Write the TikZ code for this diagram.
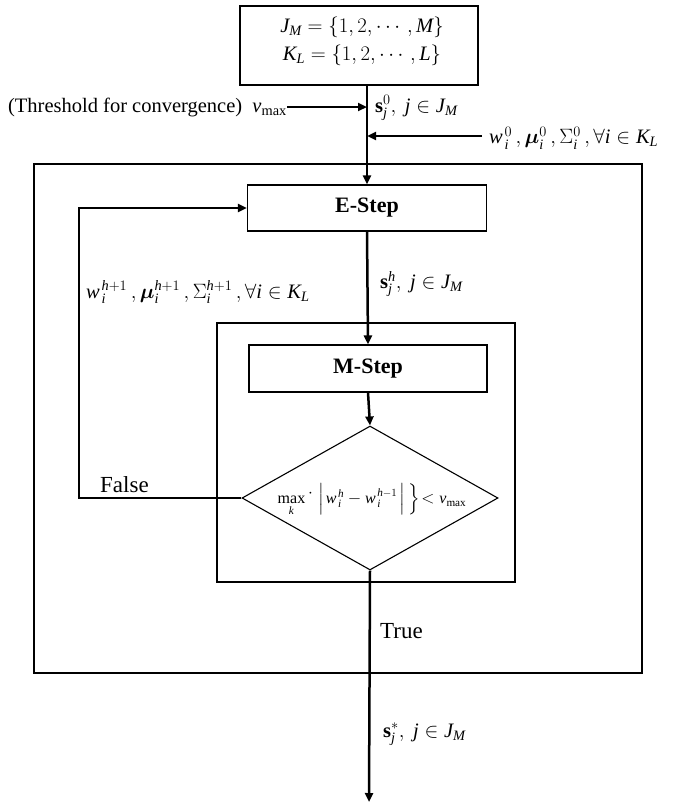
\documentclass[tikz,border=0pt]{standalone}
\usepackage{amsmath}
\usepackage{fontspec}
\setmainfont{Liberation Serif}
\DeclareSymbolFont{lsit}{TU}{\rmdefault}{m}{it}
\DeclareMathSymbol{w}{\mathalpha}{lsit}{`w}
\DeclareMathSymbol{i}{\mathalpha}{lsit}{`i}
\DeclareMathSymbol{j}{\mathalpha}{lsit}{`j}
\DeclareMathSymbol{h}{\mathalpha}{lsit}{`h}
\DeclareMathSymbol{k}{\mathalpha}{lsit}{`k}
\DeclareMathSymbol{v}{\mathalpha}{lsit}{`v}
\DeclareMathSymbol{J}{\mathalpha}{lsit}{`J}
\DeclareMathSymbol{M}{\mathalpha}{lsit}{`M}
\DeclareMathSymbol{K}{\mathalpha}{lsit}{`K}
\DeclareMathSymbol{L}{\mathalpha}{lsit}{`L}
\newcommand\ww{w\mkern1.5mu}
\usetikzlibrary{arrows.meta,shapes.geometric,calc}
\begin{document}
\begin{tikzpicture}[x=1pt,y=-1pt,
  box/.style={draw,line width=1.1pt,rectangle,inner sep=0pt},
  arr/.style={line width=2.5pt,-{Triangle[length=9pt,width=8pt]}},
  txt/.style={inner sep=0pt,font=\fontsize{20.5}{23}\selectfont},
  stepbox/.style={box,font=\fontsize{22}{24}\selectfont\bfseries}]
\useasboundingbox (0,0) rectangle (687,803);
% boxes
\node[box,minimum width=238pt,minimum height=79pt] (top) at (359,45.5) {};
\node[txt] (jm) at (362,27) {$J_M=\{1,2,\cdots,M\}$};
\node[txt] (kl) at (362,55) {$K_L=\{1,2,\cdots,L\}$};
\node[box,minimum width=608pt,minimum height=509pt] (outer) at (338,418.5) {};
\node[box,minimum width=298pt,minimum height=259pt] (inner) at (366,452.5) {};
\node[stepbox,minimum width=239pt,minimum height=46pt] (estep) at (367,208) {E-Step};
\node[stepbox,minimum width=238pt,minimum height=47pt] (mstep) at (368,368.5) {M-Step};
\node[draw,line width=1.1pt,diamond,inner sep=0pt,minimum width=256pt,minimum height=144pt] (dec) at (370,498) {};
\node[txt,font=\fontsize{16}{19}\selectfont] (dectxt) at (372,500) {$\max\limits_{k}{}^{\textstyle\cdot}\;\Bigl|\mkern2mu\ww_i^h-\ww_i^{h-1}\mkern2mu\Bigr|\,\Bigr\}\!<v_{\max}$};
% coordinates
\coordinate (fbx) at (79,0);
\coordinate (endpt) at (369,802);
\coordinate (wy) at (0,136);
% labels
\node[txt,anchor=east] (thr) at (287,107) {(Threshold for convergence)\ \ $v_{\max}$};
\node[txt,anchor=west] (s0) at (375,108) {$\mathbf{s}_j^0,\ j\in J_M$};
\node[txt,anchor=west] (w0) at (489,138) {$\ww_i^0\,,\boldsymbol{\mu}_i^0\,,\Sigma_i^0\,,\forall i\in K_L$};
\node[txt,anchor=west] (sh) at (380,284) {$\mathbf{s}_j^h,\ j\in J_M$};
\node[txt,anchor=west] (wh) at (86,292) {$\ww_i^{h+1}\,,\boldsymbol{\mu}_i^{h+1}\,,\Sigma_i^{h+1}\,,\forall i\in K_L$};
\node[txt,anchor=base west,font=\fontsize{23}{25}\selectfont] (false) at (100,492) {False};
\node[txt,anchor=base west,font=\fontsize{23}{25}\selectfont] (true) at (380,638) {True};
\node[txt,anchor=base west] (sstar) at (383,737) {$\mathbf{s}_j^*,\ j\in J_M$};
% connectors
\draw[arr] (top.south -| estep.north) -- (estep.north);
\draw[arr] (thr.east) -- (thr.east -| estep.north);
\draw[arr] ([xshift=-7pt]w0.west |- wy) -- (estep.north |- wy);
\draw[arr] (estep.south) -- (mstep.north);
\draw[arr] (mstep.south) -- (dec.north);
\draw[arr] (dec.west) -- (dec.west -| fbx) |- (estep.west);
\draw[arr] (dec.south) -- (endpt);
\end{tikzpicture}
\end{document}
